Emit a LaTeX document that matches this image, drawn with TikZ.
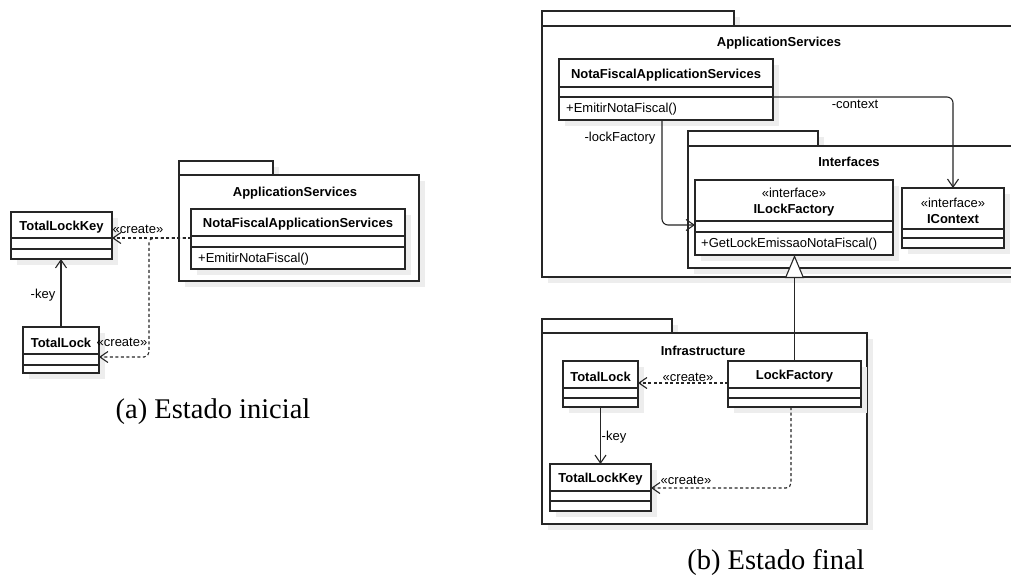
\documentclass[tikz,border=0pt]{standalone}
\usepackage{fontspec}
\setmainfont{Liberation Serif}
\newfontfamily\umlf{Liberation Sans}
\usetikzlibrary{arrows.meta,calc}

\tikzset{
  ln/.style={draw=black!85, line width=1.1pt},
  shd/.style={fill=black!7},
  clsbox/.style={ln, fill=white, anchor=north west, inner sep=0pt, outer sep=0pt},
  ttl/.style={font=\umlf\fontsize{13}{16}\selectfont\bfseries, inner sep=0pt, align=center},
  txt/.style={font=\umlf\fontsize{13}{16}\selectfont, inner sep=0pt},
  assoc/.style={ln, -{Straight Barb[length=8pt,width=11pt]}},
  dep/.style={assoc, dash pattern=on 3pt off 2.5pt},
  gen/.style={ln, -{Triangle[length=23pt,width=19pt,fill=white]}},
  captext/.style={font=\fontsize{28.5}{34}\selectfont, inner sep=0pt},
}

% name x1 y1 x2 y2 l1 l2 header
\newcommand{\umlclass}[8]{%
  \fill[shd] (#2+6,#3+6) rectangle (#4+6,#5+6);
  \node[clsbox, minimum width={(#4-#2)*1pt}, minimum height={(#5-#3)*1pt}] (#1) at (#2,#3) {};
  \draw[ln] (#2,#6) -- (#4,#6);
  \draw[ln] (#2,#7) -- (#4,#7);
  \node[ttl] at ({(#2+#4)/2},{(#3+#6)/2+2}) {#8};
}
% x1 ytab xtab y1 x2 y2 title titlex titley
\newcommand{\umlpkg}[9]{%
  \fill[shd] (#1+6,#2+6) rectangle (#3+6,#4+6);
  \fill[shd] (#1+6,#4+6) rectangle (#5+6,#6+6);
  \filldraw[ln, fill=white] (#1,#2) rectangle (#3,#4);
  \filldraw[ln, fill=white] (#1,#4) rectangle (#5,#6);
  \node[ttl] at (#8,#9+1) {#7};
}

\begin{document}
\begin{tikzpicture}[x=1pt,y=-1pt]
\useasboundingbox (0,0) rectangle (1011,574);
\clip (0,0) rectangle (1011,574);

% ---------------- (a) ----------------
\umlpkg{179}{161}{273}{175}{419}{281}{ApplicationServices}{295}{192}
\umlclass{nfa}{191}{209}{405}{269}{236}{247}{NotaFiscalApplicationServices}
\node[txt, anchor=west] (nfam) at (198,259) {+EmitirNotaFiscal()};
\umlclass{tlk}{11}{212}{112}{259}{238}{249}{TotalLockKey}
\umlclass{tl}{23}{327}{99}{373}{354}{365}{TotalLock}

\draw[assoc] (tl.north) -- (tl.north |- tlk.south);
\node[txt] (keya) at (43,295) {-key};
\coordinate (ya) at (150,238);
\draw[dep] (nfa.west |- ya) -- (tlk.east |- ya);
\coordinate (ka) at (149,238);
\coordinate (kb) at (149,357);
\draw[dep, rounded corners=5pt] (nfa.west |- ka) -- (ka) -- (kb) -- (tl.east |- kb);
\node[txt] (cra1) at (138,229) {«create»};
\node[txt] (cra2) at (122,342) {«create»};

\node[captext] (capa) at (213,412) {(a) Estado inicial};

% ---------------- (b) ----------------
\umlpkg{542}{11}{734}{26}{1020}{277}{ApplicationServices}{779}{42}
\umlclass{nfb}{559}{59}{773}{120}{87}{97}{NotaFiscalApplicationServices}
\node[txt, anchor=west] (nfbm) at (566,109.5) {+EmitirNotaFiscal()};
\umlpkg{688}{131}{818}{146}{1014}{268}{Interfaces}{849}{161}
\umlclass{ilf}{695}{180}{893}{255}{221}{232}{{\mdseries «interface»}\\ILockFactory}
\node[txt, anchor=west] (ilfm) at (701,244.5) {+GetLockEmissaoNotaFiscal()};
\umlclass{ictx}{902}{188}{1004}{248}{229}{238}{{\mdseries «interface»}\\IContext}

\umlpkg{542}{319}{672}{333}{867}{524}{Infrastructure}{703}{350}
\umlclass{tlb}{563}{361}{638}{407}{388}{398}{TotalLock}
\umlclass{lf}{728}{361}{861}{407}{388}{398}{LockFactory}
\umlclass{tlkb}{550}{464}{651}{511}{491}{501}{TotalLockKey}

% -context
\coordinate (cx) at (953,97);
\draw[assoc, rounded corners=6pt] (nfb.east |- cx) -- (cx) -- (ictx.north);
\node[txt] (ctxl) at (855,104) {-context};
% -lockFactory
\coordinate (lfc) at (662,225);
\draw[assoc, rounded corners=6pt] (nfb.south -| lfc) -- (lfc) -- (ilf.west |- lfc);
\node[txt] (lfl) at (620,138) {-lockFactory};
% generalization
\draw[gen] (lf.north) -- (lf.north |- ilf.south);
% create 1
\coordinate (cb) at (700,383);
\draw[dep] (lf.west |- cb) -- (tlb.east |- cb);
\node[txt] (crb1) at (688,377) {«create»};
% create 2
\coordinate (cc) at (791,488);
\draw[dep, rounded corners=5pt] (lf.south -| cc) -- (cc) -- (tlkb.east |- cc);
\node[txt] (crb2) at (686,480) {«create»};
% -key
\draw[assoc] (tlb.south) -- (tlb.south |- tlkb.north);
\node[txt] (keyb) at (614,437) {-key};

\node[captext] (capb) at (776,562) {(b) Estado final};
\end{tikzpicture}
\end{document}
